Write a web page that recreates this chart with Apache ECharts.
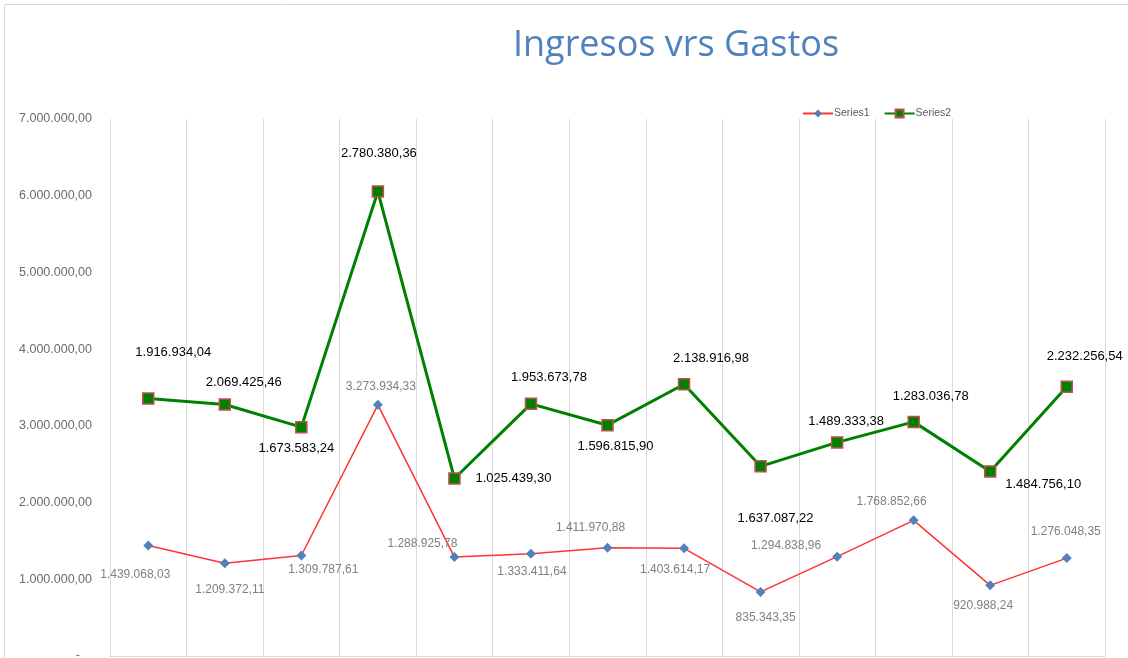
<!DOCTYPE html>
<html>
<head>
<meta charset="utf-8">
<title>Ingresos vrs Gastos</title>
<script src="https://cdn.jsdelivr.net/npm/echarts@6/dist/echarts.min.js"></script>
<style>
  html, body { margin: 0; padding: 0; background: #fff; }
  #chart { width: 1128px; height: 658px; }
</style>
</head>
<body>
<div id="chart"></div>
<script>
// data
var categories = ['1', '2', '3', '4', '5', '6', '7', '8', '9', '10', '11', '12', '13'];
var series1 = [1439068.03, 1209372.11, 1309787.61, 3273934.33, 1288925.78, 1333411.64, 1411970.88,
  1403614.17, 835343.35, 1294838.96, 1768852.66, 920988.24, 1276048.35];
var series2 = [1916934.04, 2069425.46, 1673583.24, 2780380.36, 1025439.30, 1953673.78, 1596815.90,
  2138916.98, 1637087.22, 1489333.38, 1283036.78, 1484756.10, 2232256.54];
var yTicks = [0, 1000000, 2000000, 3000000, 4000000, 5000000, 6000000, 7000000];

// where each data label sits relative to its marker (as in the excel chart)
var s1LabelOffsets = [[-13, 29], [5, 26], [22, 14], [3, -18], [-32, -13], [1, 18], [-17, -20],
  [-9, 21], [5, 26], [-51, -11], [-22, -19], [-7, 20], [-1, -26]];
var s2LabelOffsets = [[25, -46], [19, -22], [-5, 21], [1, -38], [59, 0], [18, -26], [8, 21],
  [27, -26], [15, 52], [9, -21], [17, -25], [53, 13], [18, -30]];

// 1234567.8 -> 1.234.567,80
function fmt(v) {
  var parts = v.toFixed(2).split('.');
  var int = parts[0].replace(/\B(?=(\d{3})+(?!\d))/g, '.');
  return int + ',' + parts[1];
}

var chart = echarts.init(document.getElementById('chart'));

chart.setOption({
  animation: false,
  textStyle: { fontFamily: 'Liberation Sans' },
  graphic: [{
    type: 'rect',
    shape: { x: 4.5, y: 4.5, width: 1200, height: 700 },
    style: { fill: 'none', stroke: '#d9d9d9', lineWidth: 1 },
    silent: true
  }],
  title: {
    text: 'Ingresos vrs Gastos',
    left: 671,
    textAlign: 'center',
    top: 23,
    textStyle: {
      fontFamily: 'Open Sans',
      fontSize: 36,
      fontWeight: 'normal',
      color: '#4f81bd'
    }
  },
  legend: {
    left: 797,
    top: 103,
    itemWidth: 30,
    itemHeight: 10,
    itemGap: 14,
    textStyle: { fontSize: 10.5, color: '#595959', padding: [0, 0, 0, -4] },
    data: ['Series1', 'Series2']
  },
  grid: { left: 110, right: 23, top: 119, bottom: 2, outerBoundsMode: 'none' },
  xAxis: {
    type: 'category',
    data: categories,
    boundaryGap: true,
    axisLine: { show: true, lineStyle: { color: '#d9d9d9', width: 1 } },
    axisTick: { show: false },
    axisLabel: { show: false },
    splitLine: { show: true, lineStyle: { color: '#d9d9d9', width: 1 } }
  },
  yAxis: {
    type: 'value',
    min: yTicks[0],
    max: yTicks[yTicks.length - 1],
    interval: yTicks[1] - yTicks[0],
    axisLine: { show: false },
    axisTick: { show: false },
    splitLine: { show: false },
    axisLabel: {
      margin: 18,
      fontSize: 12.5,
      color: '#6b6b6b',
      formatter: function (v) {
        return v === 0 ? '{z|-}' : fmt(v);
      },
      rich: { z: { padding: [0, 12, 0, 0], color: '#6b6b6b', fontSize: 12.5 } }
    }
  },
  series: [{
    name: 'Series1',
    type: 'line',
    stack: 'total',
    data: series1.map(function (v, i) {
      return { value: v, label: { offset: s1LabelOffsets[i] } };
    }),
    symbol: 'diamond',
    symbolSize: 10,
    lineStyle: { color: '#ff3333', width: 1.5 },
    itemStyle: { color: '#4f81bd', borderWidth: 0 },
    label: {
      show: true,
      position: 'inside',
      fontSize: 12,
      color: '#808080',
      formatter: function (p) { return fmt(p.value); }
    },
    z: 3
  }, {
    name: 'Series2',
    type: 'line',
    stack: 'total',
    data: series2.map(function (v, i) {
      return { value: v, label: { offset: s2LabelOffsets[i] } };
    }),
    symbol: 'rect',
    symbolSize: 11,
    lineStyle: { color: '#008000', width: 3 },
    itemStyle: { color: '#008000', borderColor: '#c0504d', borderWidth: 1.5 },
    label: {
      show: true,
      position: 'inside',
      fontSize: 13,
      color: '#000',
      formatter: function (p) { return fmt(p.value); }
    },
    z: 4
  }]
});
</script>
</body>
</html>
